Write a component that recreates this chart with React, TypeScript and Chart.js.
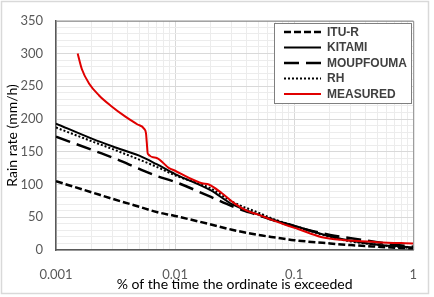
import React, { useEffect, useRef } from 'react';
import { Chart, registerables } from 'chart.js';

Chart.register(...registerables);

// ---- data ----
const PCT = [0.001, 0.002, 0.003, 0.005, 0.007, 0.01, 0.02, 0.03, 0.05, 0.07, 0.1, 0.2, 0.3, 0.5, 0.7, 1];
const ITU_R = [105, 88, 78, 66, 58, 52, 39, 31, 23, 19, 15, 10, 7.5, 5, 3.5, 2.5];
const KITAMI = [193, 170, 158, 144, 131, 116, 91, 70, 54, 45, 37, 21, 14, 8, 6, 4];
const MOUPFOUMA = [173, 153, 141, 124, 113, 104, 81, 67, 53, 44, 36, 23, 18, 12, 8, 5];
const RH = [187, 166, 154, 138, 127, 114, 94, 74, 57, 46, 37, 20, 13, 8, 5, 3];
const MEASURED_PCT = [0.00152, 0.00165, 0.0019, 0.0023, 0.0029, 0.0038, 0.0048, 0.0055, 0.0057, 0.00578, 0.0059, 0.0069, 0.0089, 0.01, 0.0131, 0.0168, 0.0192, 0.0246, 0.0322, 0.04, 0.05, 0.065, 0.089, 0.108, 0.168, 0.266, 0.32, 0.5, 1];
const MEASURED = [300, 276, 254, 236, 220, 204, 192, 185, 178, 165, 147, 141, 125, 121, 110, 102, 100, 87, 70, 60, 54, 46, 37, 32, 20, 15, 14, 12, 10];

const SERIES_LABELS = ['ITU-R', 'KITAMI', 'MOUPFOUMA', 'RH', 'MEASURED'];
const X_TICKS = [0.001, 0.01, 0.1, 1];
const X_TICK_LABELS = ['0.001', '0.01', '0.1', '1'];
const Y_MIN = 0;
const Y_MAX = 350;
const Y_LABEL_STEP = 50;
const Y_GRID_STEP = 10;
const X_TITLE = '% of the time the ordinate is exceeded';
const Y_TITLE = 'Rain rate (mm/h)';

const FONT = 'Lato, "Open Sans", "Liberation Sans", sans-serif';
const LEGEND_FONT = '"Liberation Sans", Arial, sans-serif';

const isPow10 = (v: number) => Math.abs(Math.log10(v) - Math.round(Math.log10(v))) < 1e-6;

function xGridValues(): number[] {
  const out: number[] = [];
  for (let d = 0; d < X_TICKS.length - 1; d++) {
    for (let m = 1; m < 10; m++) out.push(X_TICKS[d] * m);
  }
  out.push(X_TICKS[X_TICKS.length - 1]);
  return out;
}

const pts = (xs: number[], ys: number[]) => xs.map((x, i) => ({ x, y: ys[i] }));

const framePlugin = {
  id: 'frame',
  beforeDraw(chart: any) {
    const { ctx, width, height } = chart;
    ctx.save();
    ctx.fillStyle = '#ffffff';
    ctx.fillRect(0, 0, width, height);
    ctx.strokeStyle = '#d9d9d9';
    ctx.lineWidth = 1.5;
    ctx.strokeRect(1.5, 1.5, 427, 292);
    ctx.restore();
  },
  beforeDatasetsDraw(chart: any) {
    const { ctx, chartArea: a } = chart;
    ctx.save();
    ctx.strokeStyle = '#8c8c8c';
    ctx.lineWidth = 1;
    ctx.beginPath();
    ctx.moveTo(a.left, a.top + 0.5);
    ctx.lineTo(a.right + 0.5, a.top + 0.5);
    ctx.lineTo(a.right + 0.5, a.bottom);
    ctx.stroke();
    ctx.restore();
  },
  afterDraw(chart: any) {
    const { ctx } = chart;
    const bx = 274, by = 23, bw = 137, bh = 80;
    ctx.save();
    ctx.fillStyle = '#ffffff';
    ctx.fillRect(bx, by, bw, bh);
    ctx.strokeStyle = '#7f7f7f';
    ctx.lineWidth = 1;
    ctx.strokeRect(bx + 0.5, by + 0.5, bw, bh);
    const rowY = [32, 47.5, 63, 78.5, 94];
    chart.data.datasets.forEach((ds: any, i: number) => {
      const y = rowY[i];
      ctx.strokeStyle = ds.borderColor;
      ctx.lineWidth = ds.borderWidth;
      ctx.setLineDash(ds.borderDash || []);
      ctx.beginPath();
      ctx.moveTo(284, y);
      ctx.lineTo(321, y);
      ctx.stroke();
      ctx.setLineDash([]);
      ctx.fillStyle = '#404040';
      ctx.font = `bold 12px ${LEGEND_FONT}`;
      ctx.textBaseline = 'middle';
      ctx.textAlign = 'left';
      ctx.fillText(ds.label, 327, y + 0.5);
    });
    ctx.restore();
  },
};

export default function App() {
  const ref = useRef<HTMLCanvasElement | null>(null);

  useEffect(() => {
    if (!ref.current) return;
    const common = { fill: false, pointRadius: 0, cubicInterpolationMode: 'monotone' as const };
    const chart = new Chart(ref.current, {
      type: 'line',
      data: {
        datasets: [
          { ...common, label: SERIES_LABELS[0], data: pts(PCT, ITU_R), borderColor: '#000000', borderWidth: 2.5, borderDash: [7, 3], order: 4 },
          { ...common, label: SERIES_LABELS[1], data: pts(PCT, KITAMI), borderColor: '#000000', borderWidth: 2, order: 3 },
          { ...common, label: SERIES_LABELS[2], data: pts(PCT, MOUPFOUMA), borderColor: '#000000', borderWidth: 2.5, borderDash: [15, 7], order: 2 },
          { ...common, label: SERIES_LABELS[3], data: pts(PCT, RH), borderColor: '#000000', borderWidth: 2, borderDash: [2, 2], order: 1 },
          { ...common, label: SERIES_LABELS[4], data: pts(MEASURED_PCT, MEASURED), borderColor: '#e00000', borderWidth: 2, order: 0 },
        ],
      },
      options: {
        animation: false,
        responsive: false,
        maintainAspectRatio: false,
        layout: { padding: { left: 0, right: 19, top: 16, bottom: 0 } },
        plugins: { legend: { display: false }, tooltip: { enabled: false } },
        scales: {
          x: {
            type: 'logarithmic',
            min: X_TICKS[0],
            max: X_TICKS[X_TICKS.length - 1],
            afterBuildTicks: (s: any) => {
              s.ticks = xGridValues().map((v) => ({ value: v }));
            },
            afterFit: (s: any) => {
              s.height = 47;
            },
            grid: {
              drawTicks: false,
              color: (c: any) => (c.tick && isPow10(c.tick.value) ? '#d9d9d9' : '#ececec'),
              lineWidth: 1,
            },
            border: { color: '#595959', width: 1.5 },
            ticks: {
              autoSkip: false,
              maxRotation: 0,
              minRotation: 0,
              padding: 17,
              color: '#595959',
              font: { family: FONT, size: 13 },
              callback: (v: any) => {
                const i = X_TICKS.findIndex((t) => Math.abs(t - Number(v)) / t < 1e-6);
                return i >= 0 ? X_TICK_LABELS[i] : '';
              },
            },
            title: {
              display: true,
              text: X_TITLE,
              color: '#000000',
              font: { family: FONT, size: 14 },
              padding: { top: 0, bottom: 4 },
            },
          },
          y: {
            type: 'linear',
            min: Y_MIN,
            max: Y_MAX,
            afterFit: (s: any) => {
              s.width = 56;
            },
            grid: {
              drawTicks: false,
              color: (c: any) => (c.tick && c.tick.value % Y_LABEL_STEP === 0 ? '#d9d9d9' : '#ececec'),
              lineWidth: 1,
            },
            border: { color: '#595959', width: 1.5 },
            ticks: {
              stepSize: Y_GRID_STEP,
              autoSkip: false,
              padding: 13,
              color: '#595959',
              font: { family: FONT, size: 13 },
              callback: (v: any) => (Number(v) % Y_LABEL_STEP === 0 ? String(v) : ''),
            },
            title: {
              display: true,
              text: Y_TITLE,
              color: '#000000',
              font: { family: FONT, size: 14 },
              padding: { top: 4, bottom: 0 },
            },
          },
        },
      },
      plugins: [framePlugin],
    });
    return () => chart.destroy();
  }, []);

  return (
    <div style={{ position: 'absolute', left: 0, top: 0, width: 434, height: 297 }}>
      <canvas ref={ref} width={434} height={297} style={{ width: 434, height: 297, display: 'block' }} />
    </div>
  );
}
